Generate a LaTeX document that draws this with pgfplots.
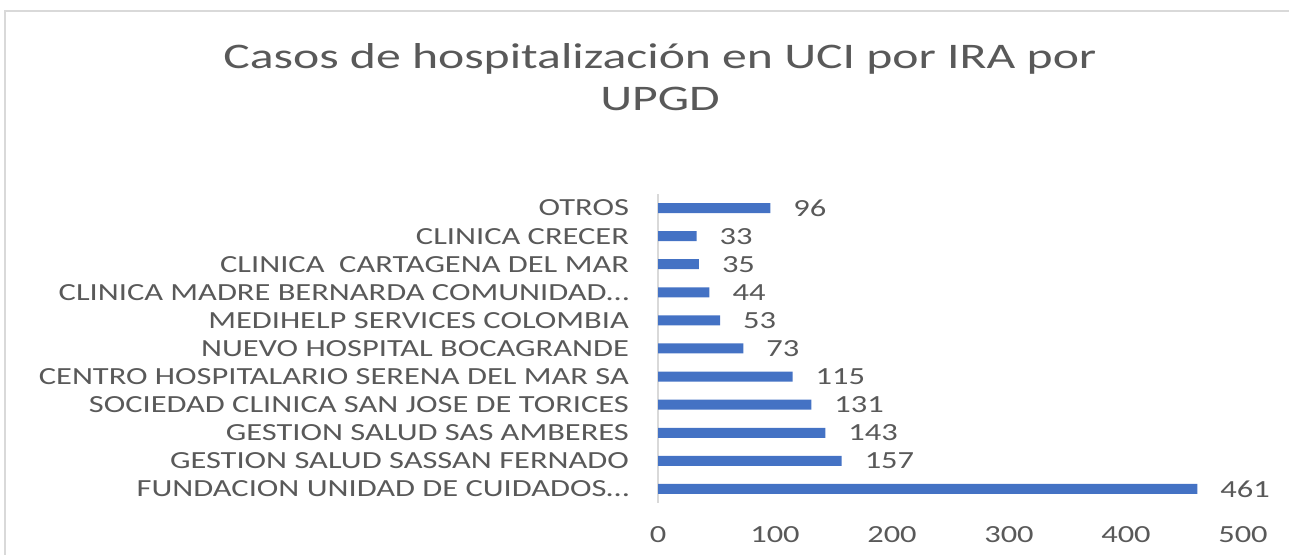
\documentclass[border=0pt]{standalone}
\usepackage{pgfplots}
\pgfplotsset{compat=1.18}
\usepackage{fontspec}
\setmainfont{Carlito}[FakeStretch=1.32]
\newfontfamily\titlefont{Carlito}[FakeStretch=1.38]
\definecolor{barblue}{HTML}{4472C4}
\definecolor{txt}{HTML}{595959}
\definecolor{ln}{HTML}{D9D9D9}
\pgfplotstableread{
y val
0 461
1 157
2 143
3 131
4 115
5 73
6 53
7 44
8 35
9 33
10 96
}\datatable
\begin{document}
\begin{tikzpicture}
\useasboundingbox (0,0) rectangle (644.5pt,277.5pt);
\draw[ln, line width=1pt] (2.5pt,0) -- (2.5pt,271.75pt) -- (644.5pt,271.75pt);
\node[txt, font=\titlefont\fontsize{18}{21}\selectfont, align=center] at (330pt,239pt) {Casos de hospitalización en UCI por IRA por\\UPGD};
\begin{axis}[
  at={(329pt,26pt)}, anchor=south west,
  scale only axis, width=292.5pt, height=154.5pt,
  xbar, bar width=5pt,
  xmin=0, xmax=500, ymin=-0.5, ymax=10.5,
  xtick={0,100,...,500}, ytick={0,...,10},
  yticklabels={FUNDACION UNIDAD DE CUIDADOS…, GESTION SALUD SASSAN FERNADO, GESTION SALUD SAS AMBERES, SOCIEDAD CLINICA SAN JOSE DE TORICES, CENTRO HOSPITALARIO SERENA DEL MAR SA, NUEVO HOSPITAL BOCAGRANDE, MEDIHELP SERVICES COLOMBIA, CLINICA MADRE BERNARDA COMUNIDAD…, CLINICA\ \ CARTAGENA DEL MAR, CLINICA CRECER, OTROS},
  axis x line*=bottom, axis y line*=left,
  x axis line style={draw=none},
  y axis line style={ln, line width=1pt},
  major tick length=0pt,
  tick style={draw=none},
  ticklabel style={txt, font=\fontsize{12.3}{14}\selectfont},
  xticklabel style={yshift=-8pt},
  yticklabel style={xshift=-11pt},
  /pgf/number format/assume math mode=true,
  nodes near coords,
  nodes near coords style={txt, font=\fontsize{12.3}{14}\selectfont, anchor=west, xshift=8pt},
  clip=false,
]
\addplot[fill=barblue, draw=none] table[x=val, y=y] {\datatable};
\end{axis}
\end{tikzpicture}
\end{document}
